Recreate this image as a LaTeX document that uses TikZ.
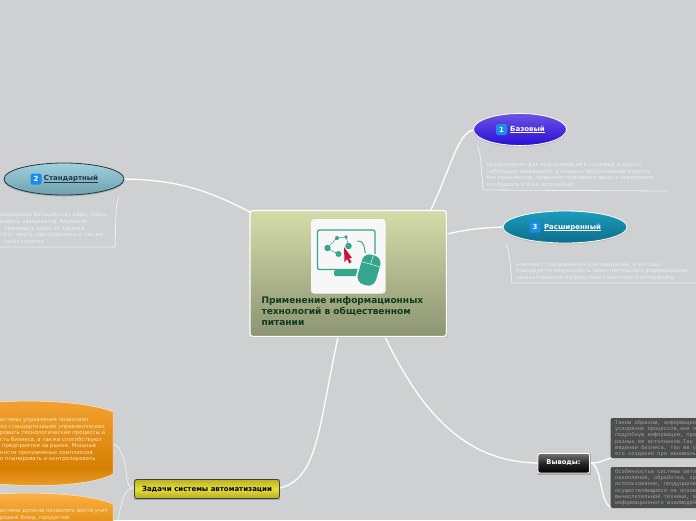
\documentclass[tikz,border=0pt]{standalone}
\usepackage{fontspec}
\setmainfont{DejaVu Sans}
\newfontfamily\monosmall{Liberation Mono}
\usetikzlibrary{shadows}
\definecolor{bgc}{HTML}{CFD0D2}
\definecolor{teal1}{HTML}{35A58E}
\definecolor{linec}{HTML}{ECEDEE}
\definecolor{darkbox}{HTML}{4B504F}
\definecolor{darktx}{HTML}{B09C9C}
\definecolor{orangetx}{HTML}{FBE6C4}
\definecolor{badgec}{HTML}{1A8CEE}
\definecolor{orA}{HTML}{FDB345}
\definecolor{orB}{HTML}{EFA030}
\definecolor{orC}{HTML}{D67F02}
\definecolor{orD}{HTML}{F3A233}
\definecolor{yeA}{HTML}{BDB222}
\definecolor{yeB}{HTML}{E6DD3C}
\definecolor{yeC}{HTML}{B5AC20}
\definecolor{baseTop}{HTML}{6C52E2}
\definecolor{baseBot}{HTML}{2A0FD8}
\definecolor{extTop}{HTML}{1D9CBE}
\definecolor{extBot}{HTML}{0E6E8A}
\definecolor{stdTop}{HTML}{A0D0DC}
\definecolor{stdBot}{HTML}{6FA0AE}
\definecolor{stdInk}{HTML}{22384A}
\definecolor{midTop}{HTML}{D5DCA9}
\definecolor{midBot}{HTML}{8C9472}
\definecolor{cursorc}{HTML}{C8143C}
\definecolor{titlec}{HTML}{123A1C}
\pgfdeclareverticalshading{orangeshade}{100bp}{color(0bp)=(orB);color(25bp)=(orB);color(36bp)=(orC);color(75bp)=(orD);color(100bp)=(orA)}
\newcommand\ulabel[1]{\setbox0\hbox{#1}\rlap{\rule[-1.2pt]{\wd0}{.5pt}}\box0}
\tikzset{
 x=1pt,y=-1pt,
 link/.style={draw=white,line width=1.3pt,line cap=round},
 fine link/.style={draw=linec,line width=.8pt,line cap=round},
 note/.style={font=\fontsize{5.3}{6.6}\selectfont,text=linec,align=left,anchor=north west,inner sep=0pt},
 orangetext/.style={font=\fontsize{5.4}{6.5}\selectfont,text=orangetx,align=left,anchor=north west,inner sep=0pt},
 darktext/.style={font=\monosmall\fontsize{5.4}{6.15}\selectfont,text=darktx,align=left,anchor=north west,inner sep=0pt},
 badge/.style={fill=badgec,rounded corners=1.5pt,minimum size=11pt,inner sep=0pt,text=white,font=\bfseries\fontsize{7}{7}\selectfont},
 ell/.style={font=\bfseries\fontsize{7}{8}\selectfont,inner sep=0pt},
}
\begin{document}
\begin{tikzpicture}
\useasboundingbox (0,0) rectangle (696,520);
\clip (0,0) rectangle (696,520);
\fill[bgc] (0,0) rectangle (696,520);
% coordinates
\coordinate (cTR) at (430,212);
\coordinate (cR) at (447,234);
\coordinate (cL) at (250,212);
\coordinate (cBL) at (338,337);
\coordinate (cBR) at (385,337);
% main links
\draw[link] (cTR) .. controls (452,165) and (458,132) .. (474,130);
\draw[link] (cR) .. controls (470,229) and (480,228) .. (503,227);
\draw[link] (cL) .. controls (200,186) and (170,180) .. (124,179);
\draw[link] (cBL) .. controls (318,430) and (318,478) .. (280,488);
\draw[link] (cBR) .. controls (425,420) and (470,462) .. (538,463);
% note outlines
\draw[fine link] (477,146) .. controls (481,152) and (481,165) .. (483,190) -- (666,191);
\draw[fine link] (506,244) .. controls (510,250) and (510,265) .. (512,283) -- (696,283);
\draw[fine link] (119,196) .. controls (115,205) and (116,225) .. (115,247) -- (0,247);
% ellipse Bazovy
\fill[black!30,opacity=.6] (520,130.6) ellipse (47 and 16.4);
\shade[top color=baseTop,bottom color=baseBot,draw=white,line width=.8pt] (520,129.5) ellipse (46.5 and 16);
\node[badge] (b1) at (501.5,129.5) {1};
\node[ell,text=white] (t1) at (527.5,129.5) {\ulabel{Базовый}};
% ellipse Rassh
\fill[black!30,opacity=.6] (565,228) ellipse (62.5 and 16.4);
\shade[top color=extTop,bottom color=extBot,draw=white,line width=.8pt] (565,227) ellipse (62 and 16);
\node[badge] (b3) at (535,227) {3};
\node[ell,text=white] (t3) at (572.5,227.5) {\ulabel{Расширенный}};
% ellipse Stand
\fill[black!40,opacity=.6] (64,180) ellipse (60.5 and 16.5);
\shade[top color=stdTop,bottom color=stdBot,draw=stdInk,line width=.8pt] (64,179) ellipse (60 and 16);
\node[badge] (b2) at (36,179) {2};
\node[ell,text=stdInk] (t2) at (71,179) {\ulabel{Стандартный}};
% notes
\node[note] (n1) at (486.5,163.5) {предназначен для использования в столовых и других\\небольших заведениях, в которых обслуживание ведется\\без официантов, позволяет принимать заказ и оперативно\\передавать его на исполнение};
\node[note] (n3) at (516,262) {комплект, предназначен для заведений, в которых\\планируется возможность самостоятельного формирования\\заказа клиентом посредством клиентского интерфейса.};
\node[note] (n2) at (0,212.5) {одходящий большинству кафе. Здесь\\работы официантов, барменов.\\\hspace*{4pt}принимать заказ от клиента,\\ти от места приготовления и так же\\\hspace*{4pt}заказ клиенту};
% center
\fill[black!25,opacity=.6] (250.5,211.5) rectangle (448,338);
\shade[top color=midTop,bottom color=midBot,draw=white,line width=1.2pt,rounded corners=3pt] (250,210.5) rectangle (446.5,336.5);
\fill[black!3,rounded corners=3pt] (311,219) rectangle (385.5,293.5);
% monitor
\draw[teal1,line width=1.3pt,rounded corners=2pt] (317.5,230) rectangle (375,269.5);
\fill[teal1,rounded corners=1.5pt] (334,270) rectangle (358.5,276);
\draw[teal1,line width=.7pt,dash pattern=on 2pt off .7pt] (327,248) -- (337,238) -- (346,237) -- (349,246) (327,248) -- (338,254);
\fill[teal1] (327.5,248) circle (3.2) (338.5,254) circle (3) (348.5,246) circle (3.3) (337,238) circle (2) (346,237) circle (1.8);
\fill[cursorc] (344,247) -- (352,258) -- (349,258) -- (351.5,262) -- (349.5,263.5) -- (347,259) -- (344.5,262) -- cycle;
\draw[teal1,line width=.9pt] (357,241) .. controls (367,241) and (363,250) .. (366,255);
\begin{scope}[rotate around={-16:(369,270)}]
\fill[black!3,rounded corners=8pt] (358,253) rectangle (380,287);
\fill[teal1,rounded corners=8pt] (359.5,254.5) rectangle (378.5,285.5);
\draw[black!3,line width=.5pt] (359.5,264) -- (378.5,264) (369,254.5) -- (369,264);
\end{scope}
\node[inner sep=0pt,anchor=north west,align=left,text=titlec,font=\bfseries\fontsize{9.05}{11}\selectfont] (ct) at (261.3,296.5) {Применение информационных\\технологий в общественном\\питании};
% yellow links
\draw[fine link] (134,488) .. controls (124,488) and (128,470) .. (124,460) .. controls (120,448) and (118,445) .. (113,444);
\draw[fine link] (134,488) .. controls (124,488) and (122,500) .. (118,520);
% yellow
\fill[black!35] (134,478.5) rectangle (280,500);
\shade[top color=yeA,bottom color=yeC,middle color=yeB,draw=black!75,line width=.7pt,rounded corners=2.5pt] (134.5,479.5) rectangle (279.5,498.5);
\node[font=\bfseries\fontsize{7}{8}\selectfont,text=black,inner sep=0pt] (yt) at (207,489) {Задачи системы автоматизации};
% orange
\shade[shading=orangeshade,draw=orangetx,line width=.5pt] (-2,402) -- (-2,484) .. controls (50,488) and (95,484) .. (113,474) -- (113,412) .. controls (95,404) and (50,399) .. (-2,402) -- cycle;
\shade[top color=orA,bottom color=orC,draw=orangetx,line width=.5pt] (-2,494) -- (-2,540) -- (113,540) -- (113,504) .. controls (95,496) and (50,491) .. (-2,494) -- cycle;
\node[orangetext] (o1) at (0,418.5) {истемы управления позволяют\\ло стандартизацию управленческих\\ровать технологические процессы и\\сть бизнеса, а также способствуют\\\hspace*{2pt}предприятия на рынке. Мощные\\ности программных комплексов\\о планировать и контролировать};
\node[orangetext] (o2) at (0,509.5) {истема должна позволять вести учет\\родаж блюд, продуктов};
% Vyvody links
\draw[link] (591,463) .. controls (600,463) and (598,462) .. (611,458);
\draw[link] (591,463) .. controls (602,465) and (600,505) .. (611,507);
% Vyvody
\fill[black!35] (538,454) rectangle (591,474.5);
\shade[top color=black!55,bottom color=black,middle color=black!85,draw=white,line width=.8pt,rounded corners=2pt] (538,453.5) rectangle (589.5,473);
\node[font=\bfseries\fontsize{6.7}{8}\selectfont,text=white,inner sep=0pt] (vt) at (563.5,463) {Выводы:};
% dark boxes
\fill[darkbox,rounded corners=2pt] (610.5,418) rectangle (700,458);
\fill[darkbox,rounded corners=2pt] (610.5,467) rectangle (700,508);
\node[darktext] (d1) at (615,420.5) {Таким образом, информацио\\ускорение процессов,они п\\подробную информацию, при\\разных ее источников.Так\\ведении бизнеса, так же у\\его создания при минималь};
\node[darktext] (d2) at (615,469.5) {Особенностью системы авто\\накопление, обработка, хр\\использование, продуциров\\осуществляющиеся на основ\\вычислительной техники, а\\информационного взаимодей};
\end{tikzpicture}
\end{document}
